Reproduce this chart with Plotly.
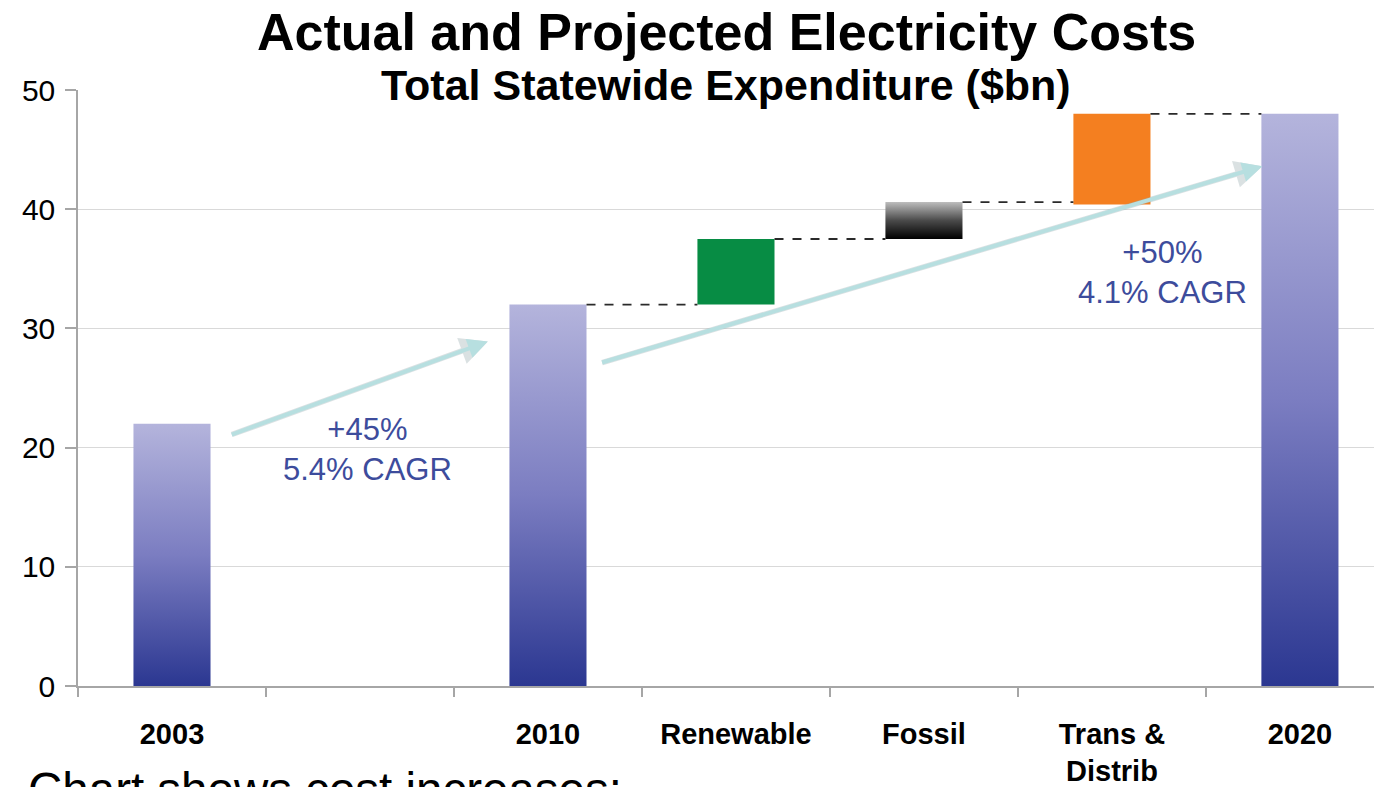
import plotly.graph_objects as go

# ---------------- data ----------------
categories = ["2003", "", "2010", "Renewable", "Fossil", "Trans &<br>Distrib", "2020"]
positions = [0, 1, 2, 3, 4, 5, 6]
bar_base = [0, None, 0, 32.0, 37.5, 40.4, 0]
bar_top = [22.0, None, 32.0, 37.5, 40.6, 48.0, 48.0]
bar_style = ["total", None, "total", "renewable", "fossil", "trans", "total"]

y_ticks = [0, 10, 20, 30, 40, 50]

growth_labels = ["+45%<br>5.4% CAGR", "+50%<br>4.1% CAGR"]
growth_label_pos = [(1.04, 19.8), (5.27, 34.7)]
growth_arrows = [((0.31, 21.05), (1.68, 28.9)), ((2.28, 27.1), (5.80, 43.6))]

title_text = "Actual and Projected Electricity Costs"
subtitle_text = "Total Statewide Expenditure ($bn)"
footer_text = "Chart shows cost increases:"

BAR_W = 0.41
FONT = "Liberation Sans, Arial, sans-serif"

fig = go.Figure()

grad_total = [[0, "#2b3791"], [0.5, "#7b7dc1"], [1, "#b4b4dc"]]
grad_fossil = [[0, "#000000"], [0.5, "#4a4a4a"], [1, "#bdbdbd"]]

for x, b, t, s in zip(positions, bar_base, bar_top, bar_style):
    if s is None:
        continue
    xs = [x - BAR_W / 2, x + BAR_W / 2, x + BAR_W / 2, x - BAR_W / 2, x - BAR_W / 2]
    ys = [b, b, t, t, b]
    if s in ("total", "fossil"):
        fig.add_trace(go.Scatter(
            x=xs, y=ys, mode="lines", fill="toself", line=dict(width=0),
            fillgradient=dict(type="vertical",
                              colorscale=grad_total if s == "total" else grad_fossil),
            hoverinfo="skip", showlegend=False))
    else:
        fig.add_trace(go.Bar(
            x=[x], y=[t - b], base=[b], width=BAR_W,
            marker=dict(color="#078c44" if s == "renewable" else "#f47f20", line=dict(width=0)),
            showlegend=False, hoverinfo="skip"))

# connectors (dashed) between consecutive bars from 2010 onward
for i in range(2, len(positions) - 1):
    lvl = bar_top[i]
    fig.add_trace(go.Scatter(
        x=[positions[i] + BAR_W / 2, positions[i + 1] - BAR_W / 2], y=[lvl, lvl],
        mode="lines", line=dict(color="#2a2a2a", width=1.8, dash="dash"),
        hoverinfo="skip", showlegend=False))

# growth arrows (soft shadow + arrow)
for (x0, y0), (x1, y1) in growth_arrows:
    fig.add_annotation(x=x1, y=y1, ax=x0, ay=y0, xref="x", yref="y", axref="x", ayref="y",
                       text="", showarrow=True, arrowhead=2, arrowsize=1.0,
                       arrowwidth=5.5, arrowcolor="rgba(150,170,175,0.35)")
    fig.add_annotation(x=x1, y=y1, ax=x0, ay=y0, xref="x", yref="y", axref="x", ayref="y",
                       text="", showarrow=True, arrowhead=2, arrowsize=1.0,
                       arrowwidth=4, arrowcolor="#b7dfe0")

for txt, (x, y) in zip(growth_labels, growth_label_pos):
    fig.add_annotation(x=x, y=y, xref="x", yref="y", text=txt, showarrow=False,
                       font=dict(family=FONT, size=31, color="#3d4c9c"), align="center")

# white band behind subtitle covering top gridline
fig.add_shape(type="rect", xref="paper", yref="y", x0=(230 - 78) / 1296, x1=(1089 - 78) / 1296,
              y0=49.6, y1=50.4, fillcolor="white", line=dict(width=0), layer="above")

fig.add_annotation(text="<b>" + title_text + "</b>", xref="paper", yref="paper",
                   x=(726 - 78) / 1296, y=(686 - 32) / 596, xanchor="center", yanchor="middle",
                   showarrow=False, font=dict(family=FONT, size=52, color="#000000"))
fig.add_annotation(text="<b>" + subtitle_text + "</b>", xref="paper", yref="paper",
                   x=(726 - 78) / 1296, y=(686 - 85) / 596, xanchor="center", yanchor="middle",
                   showarrow=False, font=dict(family=FONT, size=43, color="#000000"))
fig.add_annotation(text=footer_text, xref="paper", yref="paper",
                   x=(26 - 78) / 1296, y=(686 - 761) / 596, xanchor="left", yanchor="top",
                   showarrow=False, font=dict(family=FONT, size=47.5, color="#000000"))

fig.update_layout(
    width=1374, height=787,
    margin=dict(l=78, r=0, t=90, b=101),
    plot_bgcolor="white", paper_bgcolor="white",
    font=dict(family=FONT, color="#000000"),
    barmode="overlay",
    xaxis=dict(range=[-0.5, 6.394], tickvals=positions,
               ticktext=["<b>" + c + "</b>" if c else "" for c in categories],
               ticks="", showgrid=False, showline=True, linecolor="#a6a6a6", linewidth=1.5,
               ticklabelstandoff=21, tickfont=dict(family=FONT, size=29, color="#000000"),
               minor=dict(tickvals=[p - 0.5 for p in positions] + [6.5], ticks="outside",
                          ticklen=9, tickcolor="#a6a6a6", tickwidth=1.5, showgrid=False),
               zeroline=False, fixedrange=True, automargin=False),
    yaxis=dict(range=[0, 50], tickvals=y_ticks, ticks="outside", ticklen=11,
               tickcolor="#a6a6a6", tickwidth=1.5, showline=True, linecolor="#a6a6a6",
               linewidth=1.5, showgrid=True, gridcolor="#d9d9d9", gridwidth=1,
               zeroline=False, tickfont=dict(family=FONT, size=30, color="#000000"),
               ticklabelstandoff=4, automargin=False),
)

fig.write_html("out.html")
